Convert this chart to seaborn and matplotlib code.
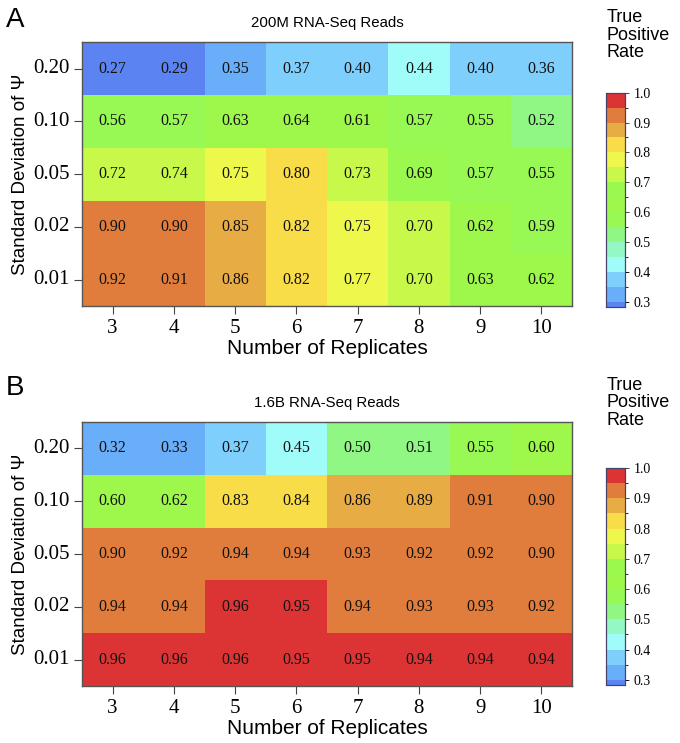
import numpy as np
import pandas as pd
import seaborn as sns
import matplotlib.pyplot as plt
from matplotlib.colors import ListedColormap, BoundaryNorm

replicates = [3, 4, 5, 6, 7, 8, 9, 10]
sd_psi = ["0.20", "0.10", "0.05", "0.02", "0.01"]

# panel A : 200M reads (rows top->bottom follow sd_psi)
tpr_200m = [
    [0.27, 0.29, 0.35, 0.37, 0.40, 0.44, 0.40, 0.36],
    [0.56, 0.57, 0.63, 0.64, 0.61, 0.57, 0.55, 0.52],
    [0.72, 0.74, 0.75, 0.80, 0.73, 0.69, 0.57, 0.55],
    [0.90, 0.90, 0.85, 0.82, 0.75, 0.70, 0.62, 0.59],
    [0.92, 0.91, 0.86, 0.82, 0.77, 0.70, 0.63, 0.62],
]
# panel B : 1.6B reads (third decimal guessed from cell colour)
tpr_16b = [
    [0.32, 0.33, 0.37, 0.45, 0.50, 0.51, 0.55, 0.60],
    [0.60, 0.62, 0.83, 0.84, 0.86, 0.89, 0.91, 0.90],
    [0.90, 0.92, 0.938, 0.938, 0.93, 0.92, 0.92, 0.90],
    [0.938, 0.938, 0.96, 0.95, 0.938, 0.93, 0.93, 0.92],
    [0.96, 0.96, 0.96, 0.95, 0.95, 0.942, 0.942, 0.942],
]
titles = ["200M RNA-Seq Reads", "1.6B RNA-Seq Reads"]
letters = ["A", "B"]

# discrete colour scale
bounds = [0.25, 0.3001, 0.3501, 0.4001, 0.4501, 0.50, 0.55, 0.60, 0.65,
          0.70, 0.75, 0.80, 0.85, 0.90, 0.94, 1.0]
colours = ["#5b84f2", "#69aef8", "#7fcffd", "#a0fcf8", "#94f8c4", "#90f684",
           "#98f854", "#9ef84c", "#9af84e", "#c8f84a", "#eef84c", "#f8dc48",
           "#e8ac44", "#e07d3c", "#dc3434"]
cmap = ListedColormap(colours)
norm = BoundaryNorm(bounds, cmap.N)

serif = "Liberation Serif"
sans = "Liberation Sans"

fig = plt.figure(figsize=(6.8, 7.43), dpi=100)

heat_pos = [[0.1206, 0.588, 0.7206, 0.3553], [0.1206, 0.0767, 0.7206, 0.3553]]
cbar_pos = [[0.891, 0.5868, 0.028, 0.2885], [0.891, 0.078, 0.028, 0.292]]
letter_y = [0.973, 0.478]
label_y = [0.988, 0.493]

for k, data in enumerate([tpr_200m, tpr_16b]):
    df = pd.DataFrame(data, index=sd_psi, columns=replicates)
    ax = fig.add_axes(heat_pos[k])
    cax = fig.add_axes(cbar_pos[k])
    sns.heatmap(df, ax=ax, cbar_ax=cax, cmap=cmap, norm=norm, annot=True, fmt=".2f",
                annot_kws={"family": serif, "size": 11.5, "color": "#111111"},
                linewidths=0, cbar_kws={"ticks": [0.3, 0.4, 0.5, 0.6, 0.7, 0.8, 0.9, 1.0]})
    for sp in ax.spines.values():
        sp.set_visible(True)
        sp.set_color("#555555")
        sp.set_linewidth(1.0)
    ax.tick_params(axis="both", direction="out", length=6, width=0.8, color="#444444",
                   labelsize=15, pad=3)
    ax.set_yticklabels(sd_psi, rotation=0, family=serif)
    ax.set_xticklabels(replicates, family=serif)
    ax.set_xlabel("Number of Replicates", family=sans, fontsize=15, labelpad=1)
    ax.set_ylabel("Standard Deviation of Ψ", family=sans, fontsize=13.5, labelpad=3)
    ax.set_title(titles[k], family=sans, fontsize=10.8, pad=11)

    cax.set_ylim(0.283, 1.0)
    cax.tick_params(direction="out", length=3, width=0.7, labelsize=10, color="#444444")
    cax.set_yticklabels(["0.3", "0.4", "0.5", "0.6", "0.7", "0.8", "0.9", "1.0"],
                        family=serif)
    for sp in cax.spines.values():
        sp.set_visible(True)
        sp.set_color("#444466")
        sp.set_linewidth(0.8)

    fig.text(0.008, letter_y[k], letters[k], family=sans, fontsize=20, va="center")
    fig.text(0.892, label_y[k], "True\nPositive\nRate", family=sans, fontsize=13,
             va="top", ha="left", linespacing=1.05)

fig.savefig("out.png", dpi=100)
